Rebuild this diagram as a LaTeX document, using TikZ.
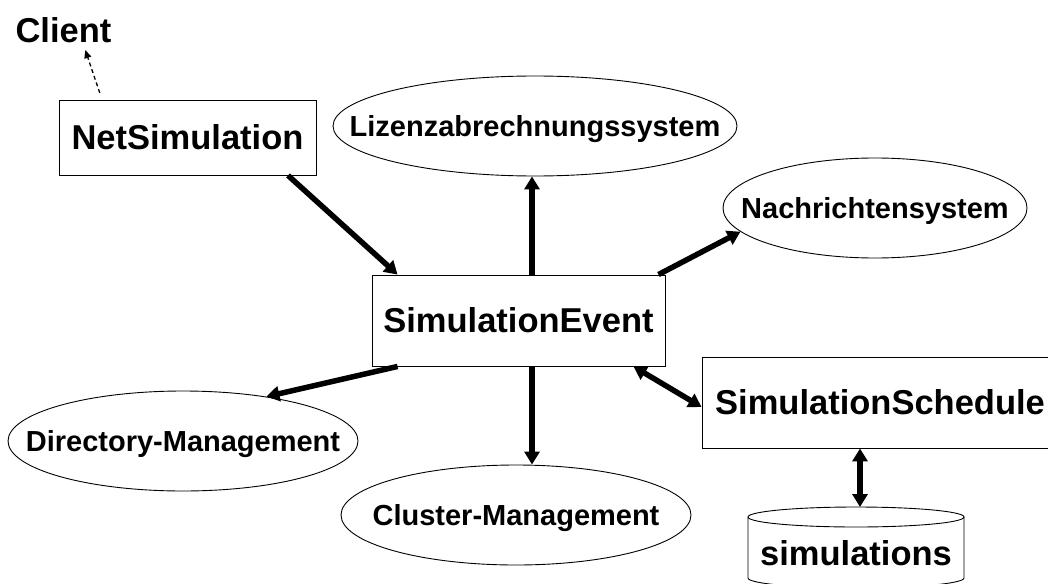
\documentclass[tikz,border=0pt]{standalone}
\usepackage{fontspec}
\setmainfont{Liberation Sans}
\usetikzlibrary{arrows.meta, shapes.geometric}

\newcommand{\bigtext}{\fontsize{34.5}{40}\selectfont\bfseries}
\newcommand{\ovaltext}{\fontsize{29}{34}\selectfont\bfseries}

\begin{document}
\begin{tikzpicture}[x=1pt, y=-1pt, >={Triangle[length=13pt, width=15pt]},
  box/.style={draw, line width=0.9pt, inner sep=0pt, font=\bigtext},
  oval/.style={ellipse, draw, line width=0.9pt, inner sep=0pt, minimum height=100pt,
    text height=21pt, text depth=0pt, font=\ovaltext},
  link/.style={line width=5.5pt}]

% Canvas
\useasboundingbox (0,0) rectangle (1048,583);
\clip (0,0) rectangle (1048,583);

% Client side
\node[font=\bigtext, inner sep=2pt] (client) at (63.5,30) {Client};
\node[box, minimum width=257pt, minimum height=75pt] (net) at (187.5,137.5) {NetSimulation};

% Central event
\node[box, minimum width=293pt, minimum height=91pt] (event) at (518.5,320.5) {SimulationEvent};

% Services
\node[oval, minimum width=404pt] (liz) at (535,126) {\makebox[0pt]{Lizenzabrechnungssystem}};
\node[oval, minimum width=304pt] (nach) at (875,208) {\makebox[0pt]{Nachrichtensystem}};
\node[oval, minimum width=350pt] (dir) at (183,441) {\makebox[0pt]{Directory-Management}};
\node[oval, minimum width=350pt] (clus) at (516,515) {\makebox[0pt]{Cluster-Management}};

% Scheduler and its store
\node[box, minimum width=356pt, minimum height=91pt] (sched) at (880,402.5) {SimulationSchedule};
\draw[line width=0.9pt] (856,517) ellipse [x radius=108, y radius=10];
\draw[line width=0.9pt] (748,517) -- (748,578) arc[start angle=180, end angle=0, x radius=108, y radius=10] -- (964,517);
\node[font=\bigtext] (db) at (856,553) {simulations};
\coordinate (dbtop) at (860,507);

% Connectors
\draw[line width=1.3pt, dash pattern=on 4pt off 3pt, shorten <=7pt, shorten >=5.5pt,
  -{Triangle[length=8pt, width=7pt]}] ([xshift=-85.5pt]net.north) -- ([xshift=20pt]client.south);
\draw[link, ->] ([xshift=100.5pt]net.south) -- ([xshift=26pt]event.north west);
\draw[link, ->] ([xshift=13.5pt]event.north) -- ([xshift=13.5pt]event.north |- liz.south);
\draw[link, ->] ([xshift=-7pt]event.north east) -- (nach.190);
\draw[link, ->] ([xshift=26pt]event.south west) -- (dir.28);
\draw[link, ->] ([xshift=13.5pt]event.south) -- ([xshift=13.5pt]event.south |- clus.north);
\draw[link, <->] ([xshift=-32pt]event.south east) -- ([yshift=-4.5pt]sched.west);
\draw[link, <->] (sched.south -| dbtop) -- (dbtop);

\end{tikzpicture}
\end{document}
